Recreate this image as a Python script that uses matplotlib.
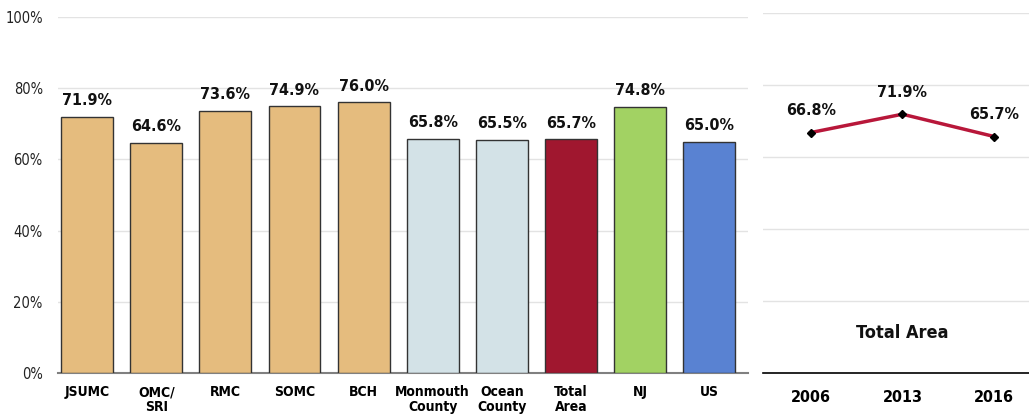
import matplotlib.pyplot as plt
from matplotlib import font_manager
from matplotlib.font_manager import FontProperties

# pick a condensed font if one is installed (reference uses Arial Narrow)
def find_font(bold):
    want = 700 if bold else 400
    best = None
    for f in font_manager.fontManager.ttflist:
        narrow = "Narrow" in f.name or "condensed" in str(f.stretch).lower() or "Condensed" in f.fname
        if not narrow:
            continue
        w = f.weight if isinstance(f.weight, int) else (700 if "bold" in str(f.weight) else 400)
        if "Oblique" in f.fname or "Italic" in f.fname:
            continue
        if w == want:
            if best is None or "Liberation" in f.fname:
                best = f.fname
    return best

bold_file = find_font(True)
reg_file = find_font(False)
if bold_file:
    BOLD = dict(fontproperties=FontProperties(fname=bold_file))
else:
    BOLD = dict(family="Liberation Sans", fontweight="bold")
if reg_file:
    REG = dict(fontproperties=FontProperties(fname=reg_file))
else:
    REG = dict(family="Liberation Sans")

# data
categories = ["JSUMC", "OMC/\nSRI", "RMC", "SOMC", "BCH", "Monmouth\nCounty",
              "Ocean\nCounty", "Total\nArea", "NJ", "US"]
values = [71.9, 64.6, 73.6, 74.9, 76.0, 65.8, 65.5, 65.7, 74.8, 65.0]
bar_colors = ["#E5BC7E"] * 5 + ["#D3E2E7", "#D3E2E7", "#A0172F", "#A2D263", "#5982D2"]

years = ["2006", "2013", "2016"]
trend = [66.8, 71.9, 65.7]


def txt(ax, x, y, s, size, props, **kw):
    p = dict(props)
    if "fontproperties" in p:
        fp = p["fontproperties"].copy()
        fp.set_size(size)
        return ax.text(x, y, s, fontproperties=fp, **kw)
    return ax.text(x, y, s, fontsize=size, **p, **kw)


def style_ticks(labels, size, props):
    for lab in labels:
        if "fontproperties" in props:
            fp = props["fontproperties"].copy()
            fp.set_size(size)
            lab.set_fontproperties(fp)
        else:
            lab.set_family(props["family"])
            lab.set_fontsize(size)
            if "fontweight" in props:
                lab.set_fontweight(props["fontweight"])


fig = plt.figure(figsize=(10.29, 4.19), dpi=100)

# --- left: bars ---
ax = fig.add_axes([0.0564, 0.1098, 0.6705, 0.8496])
x = range(len(categories))
ax.bar(x, values, width=0.75, color=bar_colors, edgecolor="#333333", linewidth=1, zorder=3)
for xi, v in zip(x, values):
    txt(ax, xi, v + 2.4, f"{v:.1f}%", 11.5, BOLD, ha="center", va="bottom", color="#111111")
ax.set_ylim(0, 100)
ax.set_xlim(-0.42, 9.56)
ax.set_yticks(range(0, 101, 20))
ax.set_yticklabels([f"{t}%" for t in range(0, 101, 20)])
style_ticks(ax.get_yticklabels(), 10.5, REG)
ax.set_xticks(list(x))
ax.set_xticklabels(categories, linespacing=1.05, va="top")
style_ticks(ax.get_xticklabels(), 10, BOLD)
ax.grid(axis="y", color="#E3E3E3", linewidth=1, zorder=0)
for s in ["top", "right", "left"]:
    ax.spines[s].set_visible(False)
ax.spines["bottom"].set_color("#808080")
ax.spines["bottom"].set_linewidth(1.5)
ax.tick_params(axis="both", length=0)
ax.tick_params(axis="x", pad=9)
ax.tick_params(axis="y", pad=11, labelcolor="#222222")

# --- right: trend line ---
ax2 = fig.add_axes([0.7415, 0.1098, 0.2585, 0.859])
xr = range(len(years))
ax2.plot(xr, trend, color="#B8173A", linewidth=2.5, marker="D", markersize=4,
         markerfacecolor="black", markeredgecolor="black", zorder=3)
for xi, v in zip(xr, trend):
    txt(ax2, xi, v + 4, f"{v:.1f}%", 11.5, BOLD, ha="center", va="bottom", color="#111111")
txt(ax2, 1, 11, "Total Area", 13, BOLD, ha="center", va="center", color="#111111")
ax2.set_ylim(0, 100)
ax2.set_xlim(-0.52, 2.38)
ax2.set_yticks(range(0, 101, 20))
ax2.set_yticklabels([])
ax2.set_xticks(list(xr))
ax2.set_xticklabels(years)
style_ticks(ax2.get_xticklabels(), 11.5, BOLD)
ax2.grid(axis="y", color="#E3E3E3", linewidth=1, zorder=0)
for s in ["top", "right", "left"]:
    ax2.spines[s].set_visible(False)
ax2.spines["bottom"].set_color("black")
ax2.spines["bottom"].set_linewidth(1.2)
ax2.tick_params(axis="both", length=0)
ax2.tick_params(axis="x", pad=12)

fig.savefig("out.png", dpi=100)
